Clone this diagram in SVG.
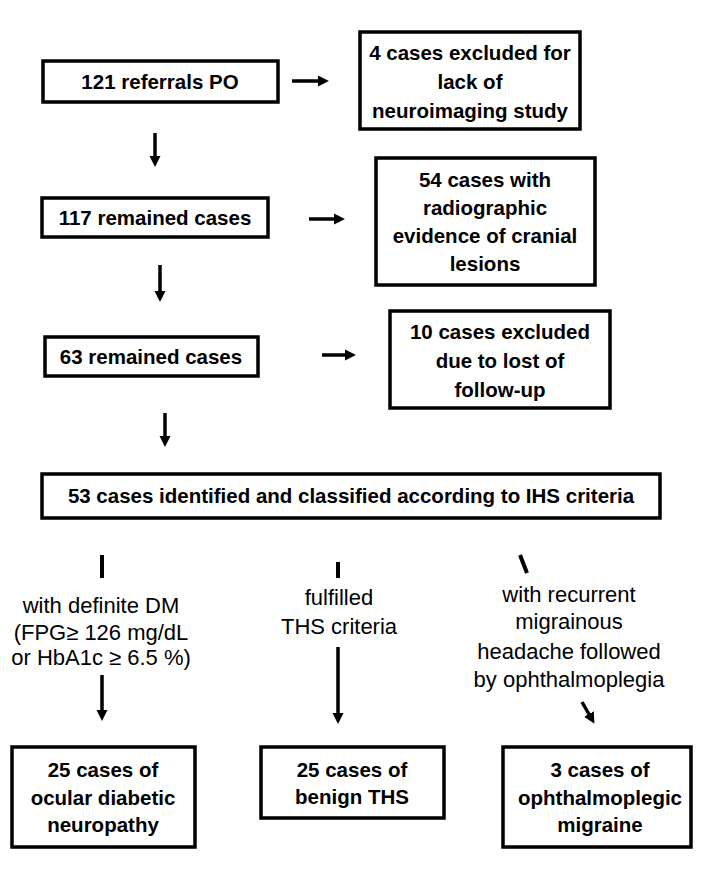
<svg xmlns="http://www.w3.org/2000/svg" width="708" height="873" viewBox="0 0 708 873">
<defs>
<marker id="ah" viewBox="0 0 10 10" refX="2" refY="5" markerWidth="3.2" markerHeight="3.4" orient="auto" markerUnits="strokeWidth">
<path d="M0,0 L10,5 L0,10 z" fill="#000"/>
</marker>
<style>
.box{fill:#fff;stroke:#000;stroke-width:3.5}
.t{font-family:"Liberation Sans",Arial,sans-serif;font-size:20.5px;font-weight:bold;text-anchor:middle;fill:#000}
.n{font-family:"Liberation Sans",Arial,sans-serif;font-size:22px;text-anchor:middle;fill:#000}
.c{stroke:#000;stroke-width:4;fill:none}
.a{stroke:#000;stroke-width:3.5;fill:none;marker-end:url(#ah)}
</style>
</defs>
<rect width="708" height="873" fill="#fff"/>
<g id="n1"><rect class="box" x="43" y="61" width="235" height="41"/><text class="t" x="160" y="89">121 referrals PO</text></g>
<g id="n2"><rect class="box" x="360" y="32" width="220" height="97"/><text class="t" x="470" y="60">4 cases excluded for</text><text class="t" x="470" y="89">lack of</text><text class="t" x="470" y="118">neuroimaging study</text></g>
<g id="n3"><rect class="box" x="42" y="198" width="226" height="39"/><text class="t" x="155" y="225">117 remained cases</text></g>
<g id="n4"><rect class="box" x="376" y="158" width="219" height="127"/><text class="t" x="485" y="187">54 cases with</text><text class="t" x="485" y="215">radiographic</text><text class="t" x="485" y="243">evidence of cranial</text><text class="t" x="485" y="271">lesions</text></g>
<g id="n5"><rect class="box" x="45" y="337" width="213" height="39"/><text class="t" x="151" y="364">63  remained cases</text></g>
<g id="n6"><rect class="box" x="390" y="311" width="220" height="97"/><text class="t" x="500" y="339">10 cases excluded</text><text class="t" x="500" y="368">due to lost of</text><text class="t" x="500" y="397">follow-up</text></g>
<g id="n7"><rect class="box" x="42" y="474" width="618" height="44"/><text class="t" x="351" y="503">53 cases identified and classified according to IHS criteria</text></g>
<g id="n8"><rect class="box" x="12" y="747" width="183" height="100"/><text class="t" x="103" y="777">25 cases of</text><text class="t" x="103" y="805">ocular diabetic</text><text class="t" x="103" y="832">neuropathy</text></g>
<g id="n9"><rect class="box" x="261" y="747" width="183" height="71"/><text class="t" x="352" y="777">25 cases of</text><text class="t" x="352" y="804">benign THS</text></g>
<g id="n10"><rect class="box" x="503" y="747" width="188" height="100"/><text class="t" x="600" y="777">3 cases of</text><text class="t" x="600" y="805">ophthalmoplegic</text><text class="t" x="600" y="832">migraine</text></g>
<g id="labels">
<text class="n" x="101" y="613">with definite DM</text>
<text class="n" x="101" y="640">(FPG≥ 126 mg/dL</text>
<text class="n" x="101" y="665">or HbA1c ≥ 6.5 %)</text>
<text class="n" x="339" y="605">fulfilled</text>
<text class="n" x="339" y="634">THS criteria</text>
<text class="n" x="569" y="602">with recurrent</text>
<text class="n" x="569" y="629">migrainous</text>
<text class="n" x="569" y="659">headache followed</text>
<text class="n" x="569" y="687">by ophthalmoplegia</text>
</g>
<g id="connectors">
<line class="a" x1="292" y1="81" x2="320" y2="81"/>
<line class="a" x1="155" y1="133" x2="155" y2="158"/>
<line class="a" x1="309" y1="219" x2="336" y2="219"/>
<line class="a" x1="160" y1="265" x2="160" y2="293"/>
<line class="a" x1="322" y1="355" x2="347" y2="355"/>
<line class="a" x1="165" y1="413" x2="165" y2="438"/>
<line class="c" x1="102" y1="555" x2="102" y2="578"/>
<line class="c" x1="338" y1="562" x2="338" y2="578"/>
<line class="c" x1="520" y1="555" x2="527" y2="573"/>
<line class="a" x1="102" y1="675" x2="102" y2="712"/>
<line class="a" x1="338" y1="647" x2="338" y2="715"/>
<line class="a" x1="582" y1="702" x2="590" y2="716"/>
</g>
</svg>
